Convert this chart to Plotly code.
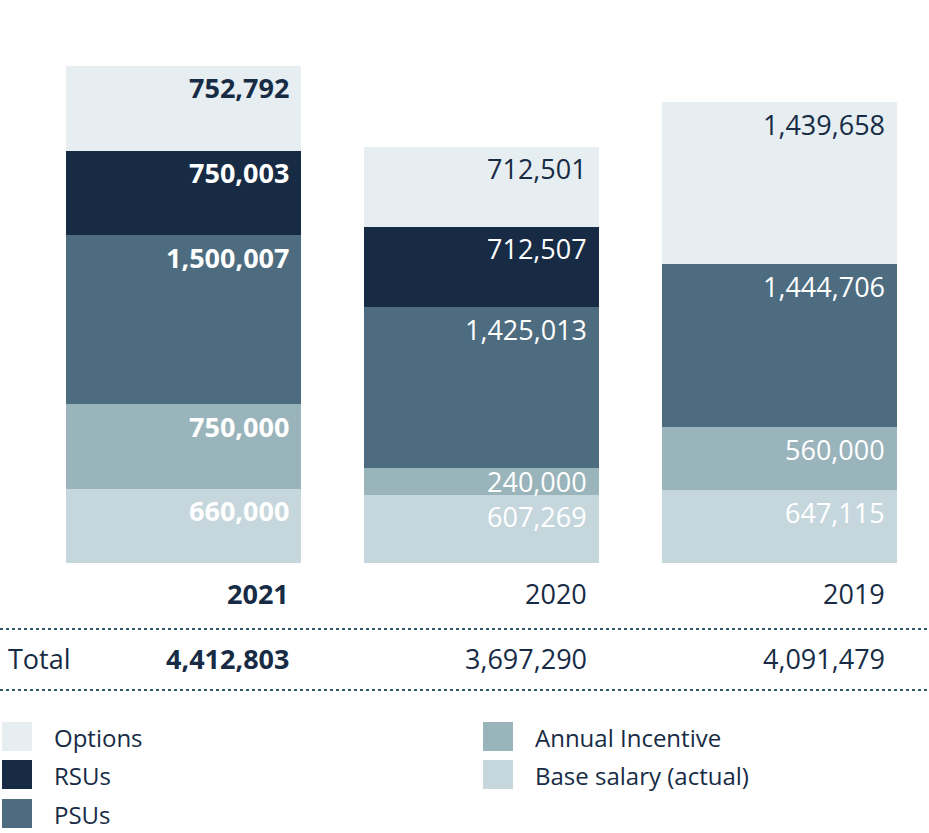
import plotly.graph_objects as go

years = ["2021", "2020", "2019"]
series_names = ["Base salary (actual)", "Annual Incentive", "PSUs", "RSUs", "Options"]
base_salary = [660000, 607269, 647115]
annual_incentive = [750000, 240000, 560000]
psus = [1500007, 1425013, 1444706]
rsus = [750003, 712507, 0]
options = [752792, 712501, 1439658]
totals = [4412803, 3697290, 4091479]

colors = {
    "Options": "#E6EEF1",
    "RSUs": "#172B45",
    "PSUs": "#4D6C80",
    "Annual Incentive": "#9AB4BC",
    "Base salary (actual)": "#C5D7DC",
}
label_colors = {
    "Options": "#172B45",
    "RSUs": "#FFFFFF",
    "PSUs": "#FFFFFF",
    "Annual Incentive": "#FFFFFF",
    "Base salary (actual)": "#FFFFFF",
}
values = {
    "Base salary (actual)": base_salary,
    "Annual Incentive": annual_incentive,
    "PSUs": psus,
    "RSUs": rsus,
    "Options": options,
}

FONT = "Open Sans"
DARK = "#172B45"
W, H = 929, 833
BAR_W = 0.7886
PX_PER_UNIT_Y = 112.65 / 1e6
ZERO_PX = 563

xs = list(range(len(years)))
fig = go.Figure()
for name in series_names:
    fig.add_trace(go.Bar(
        x=xs, y=values[name], name=name, width=BAR_W,
        marker=dict(color=colors[name], line=dict(width=0)),
        showlegend=False, hoverinfo="y+name",
    ))

annotations = []
for i, yr in enumerate(years):
    bold = (i == 0)
    cum = 0
    for name in series_names:
        v = values[name][i]
        if v <= 0:
            continue
        top = cum + v
        seg_px = v * PX_PER_UNIT_Y
        off = min(22, seg_px / 2)
        txt = f"{v:,}"
        if bold:
            txt = f"<b>{txt}</b>"
        annotations.append(dict(
            x=i + BAR_W / 2, y=top, xref="x", yref="y",
            text=txt, showarrow=False, xanchor="right", yanchor="middle",
            xshift=-10, yshift=-off,
            font=dict(family=FONT, size=27, color=label_colors[name]),
        ))
        cum = top
    ytxt = f"<b>{yr}</b>" if bold else yr
    annotations.append(dict(
        x=i + BAR_W / 2, y=0, xref="x", yref="y", text=ytxt, showarrow=False,
        xanchor="right", yanchor="middle", xshift=-10, yshift=-30,
        font=dict(family=FONT, size=27, color=DARK),
    ))
    ttxt = f"{totals[i]:,}"
    if bold:
        ttxt = f"<b>{ttxt}</b>"
    annotations.append(dict(
        x=i + BAR_W / 2, y=0, xref="x", yref="y", text=ttxt, showarrow=False,
        xanchor="right", yanchor="middle", xshift=-10, yshift=-95,
        font=dict(family=FONT, size=27, color=DARK),
    ))

annotations.append(dict(
    x=6 / W, y=1 - 658 / H, xref="paper", yref="paper", text="Total",
    showarrow=False, xanchor="left", yanchor="middle",
    font=dict(family=FONT, size=27, color=DARK),
))

shapes = []
for ypx in (629, 690):
    shapes.append(dict(
        type="line", xref="paper", yref="paper", x0=0, x1=1,
        y0=1 - ypx / H, y1=1 - ypx / H,
        line=dict(color="#2F5868", width=2, dash="dot"),
    ))

legend_items = [
    ("Options", 2, 722), ("RSUs", 2, 760), ("PSUs", 2, 799),
    ("Annual Incentive", 483, 722), ("Base salary (actual)", 483, 760),
]
for name, lx, ly in legend_items:
    shapes.append(dict(
        type="rect", xref="paper", yref="paper",
        x0=lx / W, x1=(lx + 30) / W, y0=1 - ly / H, y1=1 - (ly + 29) / H,
        fillcolor=colors[name], line=dict(width=0),
    ))
    annotations.append(dict(
        x=(lx + 50) / W, y=1 - (ly + 15) / H, xref="paper", yref="paper",
        text=name, showarrow=False, xanchor="left", yanchor="middle",
        font=dict(family=FONT, size=24, color=DARK),
    ))

x0 = -183.5 / 298
x1 = x0 + W / 298
y_lo = -(H - ZERO_PX) / PX_PER_UNIT_Y
y_hi = ZERO_PX / PX_PER_UNIT_Y

fig.update_layout(
    barmode="stack",
    width=W, height=H,
    margin=dict(l=0, r=0, t=0, b=0),
    paper_bgcolor="white", plot_bgcolor="white",
    xaxis=dict(range=[x0, x1], visible=False, fixedrange=True),
    yaxis=dict(range=[y_lo, y_hi], visible=False, fixedrange=True),
    annotations=annotations, shapes=shapes,
    font=dict(family=FONT, color=DARK),
    bargap=0,
)

fig.write_html(
    "out.html",
    config={"displayModeBar": False},
    post_script="document.body.style.margin='0';document.body.style.overflow='hidden';",
)
